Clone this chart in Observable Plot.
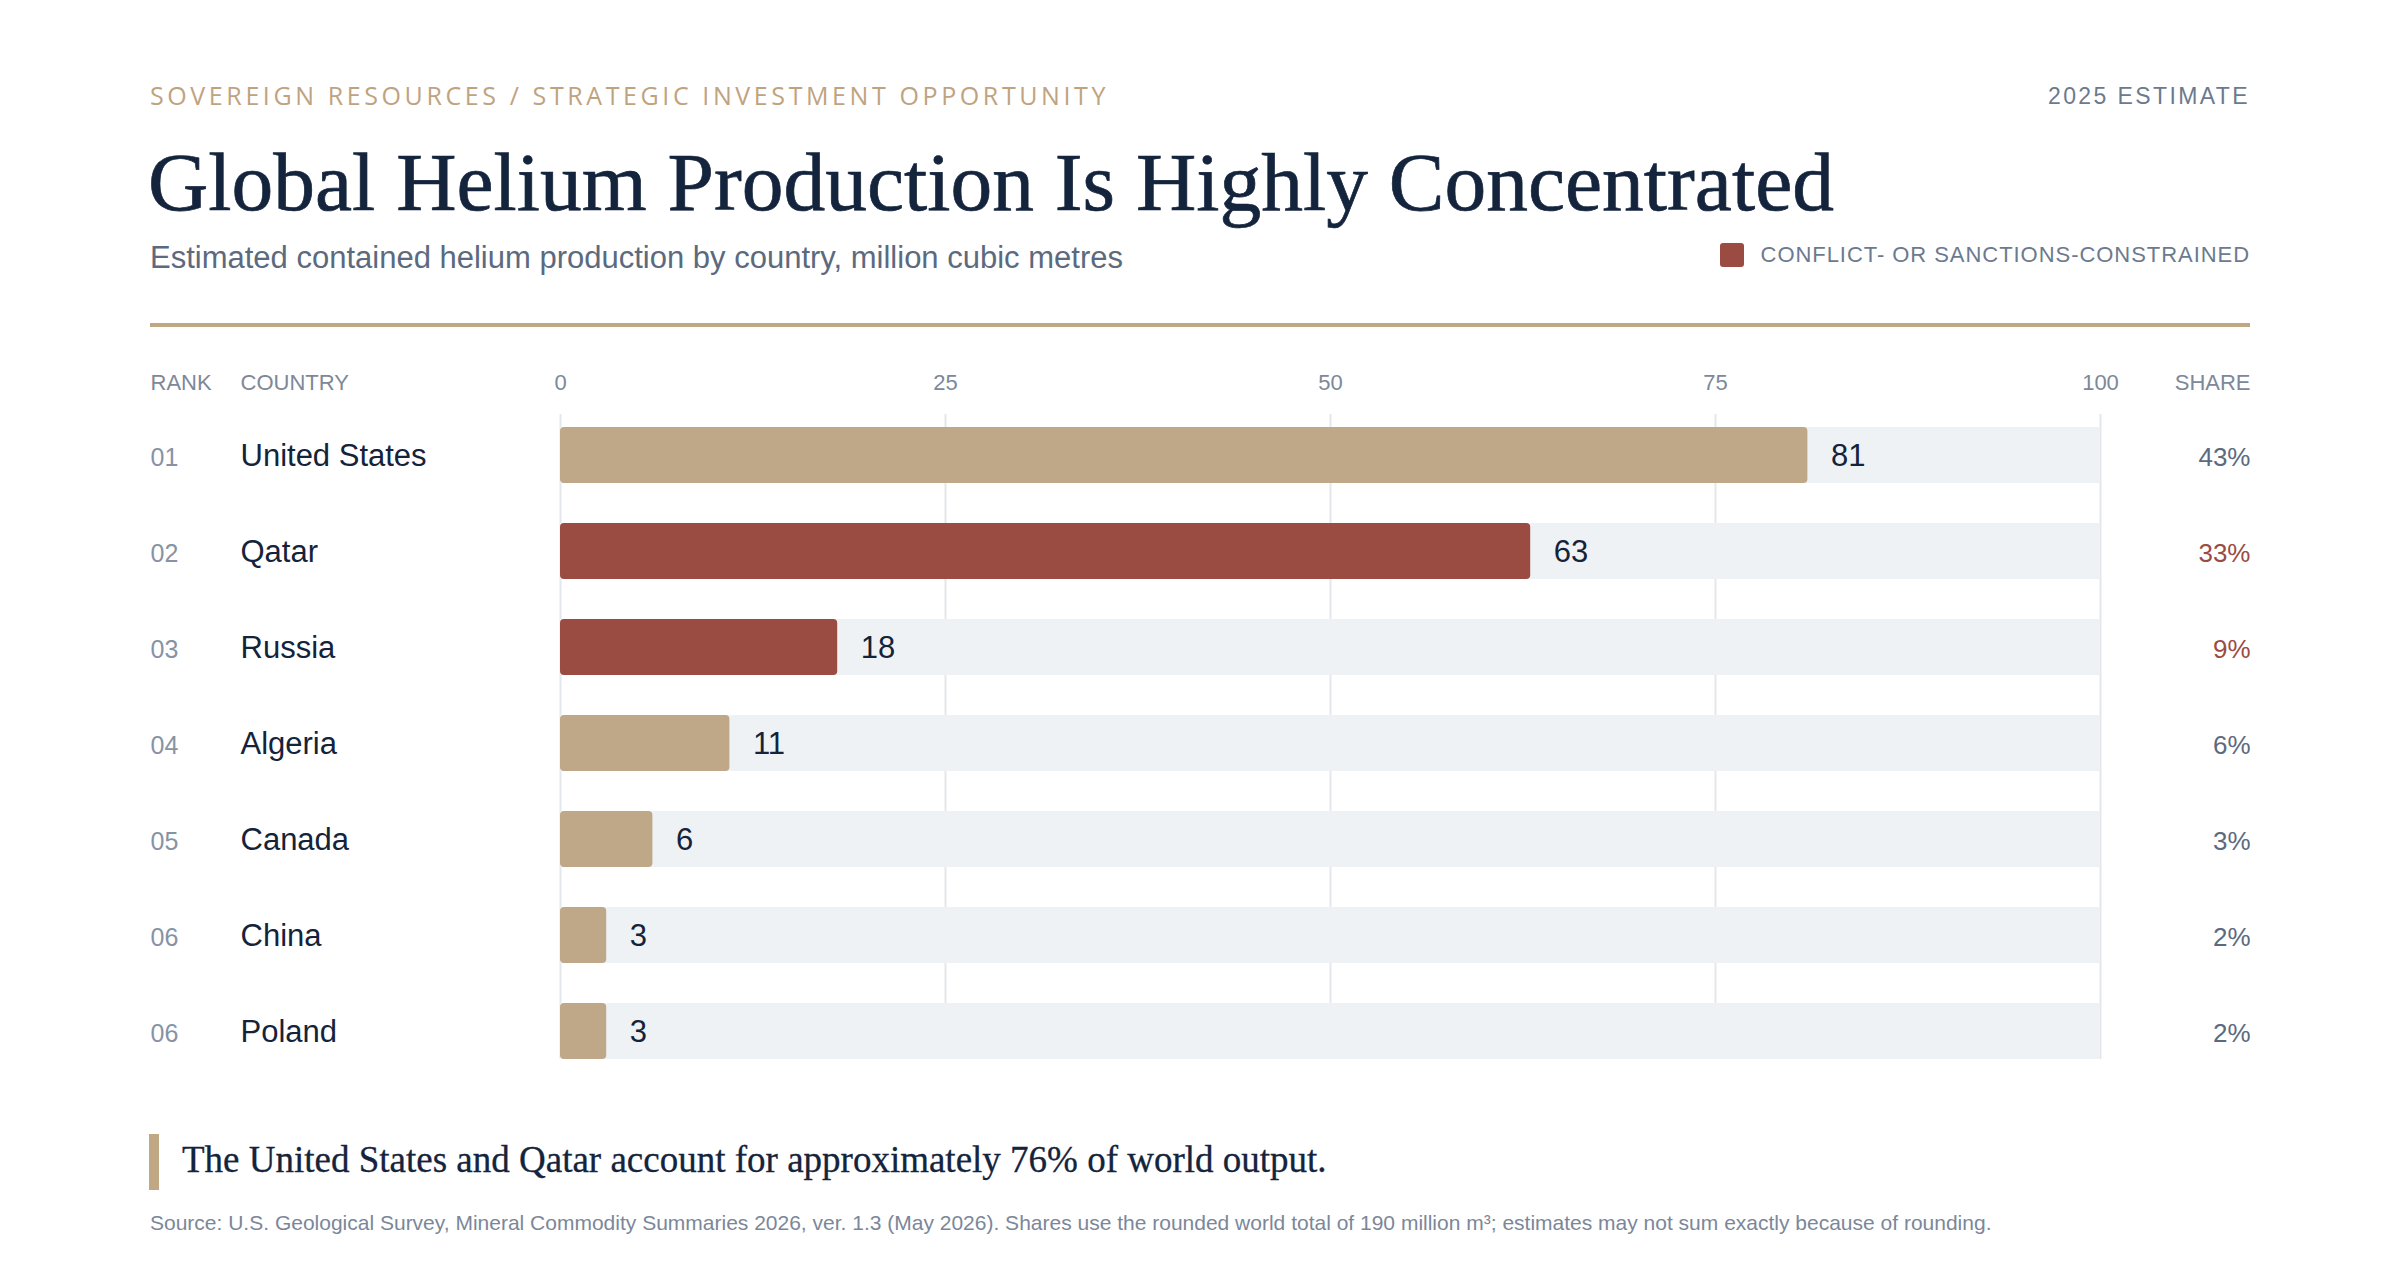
<!DOCTYPE html>
<html>
<head>
<meta charset="utf-8">
<script src="https://cdn.jsdelivr.net/npm/d3@7"></script>
<script src="https://cdn.jsdelivr.net/npm/@observablehq/plot@0.6"></script>
<style>
  html, body { margin: 0; padding: 0; background: #ffffff; }
  #page { position: relative; width: 2400px; height: 1280px; overflow: hidden; font-family: "Liberation Sans", Arial, sans-serif; }
  .abs { position: absolute; white-space: nowrap; line-height: 1; }
  #kicker { left: 150px; top: 83px; font-family: "Open Sans", sans-serif; font-size: 25px; letter-spacing: 3.6px; color: #bfa37f; }
  #estimate { right: 150px; top: 85px; font-size: 23px; letter-spacing: 2.4px; color: #6b7a8e; }
  #title { left: 148px; top: 141px; font-family: "Liberation Serif", Georgia, serif; font-size: 83.5px; color: #14243c; -webkit-text-stroke: 0.7px #14243c; }
  #subtitle { left: 150px; top: 242px; font-size: 31px; color: #5b6a7e; }
  #legend { right: 150px; top: 243px; display: flex; align-items: center; font-size: 22px; letter-spacing: 0.95px; color: #6b7a8e; }
  #legend .sw { width: 24px; height: 24px; border-radius: 3px; background: #9b4c42; margin-right: 17px; }
  #rule { position: absolute; left: 150px; top: 323px; width: 2100px; height: 4px; background: #c0a884; }
  #chart { position: absolute; left: 0; top: 340px; }
  #callbar { position: absolute; left: 149px; top: 1134px; width: 10px; height: 56px; background: #c0a884; }
  #callout { left: 182px; top: 1141px; font-family: "Liberation Serif", Georgia, serif; font-size: 37px; color: #14243c; -webkit-text-stroke: 0.3px #14243c; }
  #source { left: 150px; top: 1212px; font-size: 21px; color: #7b8799; }
</style>
</head>
<body>
<div id="page">
  <div id="kicker" class="abs">SOVEREIGN RESOURCES / STRATEGIC INVESTMENT OPPORTUNITY</div>
  <div id="estimate" class="abs">2025 ESTIMATE</div>
  <div id="title" class="abs">Global Helium Production Is Highly Concentrated</div>
  <div id="subtitle" class="abs">Estimated contained helium production by country, million cubic metres</div>
  <div id="legend" class="abs"><span class="sw"></span><span>CONFLICT- OR SANCTIONS-CONSTRAINED</span></div>
  <div id="rule"></div>
  <div id="chart"></div>
  <div id="callbar"></div>
  <div id="callout" class="abs">The United States and Qatar account for approximately 76% of world output.</div>
  <div id="source" class="abs">Source: U.S. Geological Survey, Mineral Commodity Summaries 2026, ver. 1.3 (May 2026). Shares use the rounded world total of 190 million m³; estimates may not sum exactly because of rounding.</div>
</div>
<script>
// ---- data ----
const countries = ["United States", "Qatar", "Russia", "Algeria", "Canada", "China", "Poland"];
const ranks = ["01", "02", "03", "04", "05", "06", "06"];
const production = [81, 63, 18, 11, 6, 3, 3];
const shares = [43, 33, 9, 6, 3, 2, 2];
const constrained = [false, true, true, false, false, false, false];
const xTicks = [0, 25, 50, 75, 100];
const xMax = 100;
const headers = ["RANK", "COUNTRY", "SHARE"];

// ---- styles ----
const TAN = "#bea887";
const RED = "#9b4c42";
const NAVY = "#14233a";
const GRAY = "#7d8899";

const rows = countries.map((c, i) => ({
  country: c, rank: ranks[i], value: production[i], share: shares[i], constrained: constrained[i]
}));

const chart = Plot.plot({
  width: 2400,
  height: 760,
  marginLeft: 560,
  marginRight: 300,
  marginTop: 74,
  marginBottom: 29,
  style: { fontFamily: "'Liberation Sans', Arial, sans-serif", background: "transparent" },
  x: { domain: [0, xMax], axis: null },
  y: { domain: countries, axis: null, paddingInner: 40 / 96, paddingOuter: 0.13 },
  color: { type: "identity" },
  marks: [
    Plot.axisX({ anchor: "top", ticks: xTicks, tickSize: 0, tickPadding: 25, label: null, fontSize: 22, color: GRAY }),
    Plot.ruleX(xTicks, { stroke: "#e3e7ec", strokeWidth: 2, insetBottom: 12 }),
    Plot.barX(rows, { y: "country", x1: 0, x2: xMax, fill: "#eff2f5" }),
    Plot.barX(rows, { y: "country", x: "value", fill: d => d.constrained ? RED : TAN, rx: 4 }),
    Plot.text(rows, { y: "country", x: "value", text: d => String(d.value), dx: 23, textAnchor: "start", fontSize: 31, fill: NAVY, dy: 1 }),
    Plot.text(rows, { y: "country", text: "rank", frameAnchor: "left", textAnchor: "start", dx: -410, fontSize: 25, fill: "#8793a4", dy: 2 }),
    Plot.text(rows, { y: "country", text: "country", frameAnchor: "left", textAnchor: "start", dx: -320, fontSize: 31, fill: NAVY, dy: 1 }),
    Plot.text(rows, { y: "country", text: d => d.share + "%", frameAnchor: "right", textAnchor: "end", dx: 150, fontSize: 26, fill: d => d.constrained ? RED : "#5b6a7e", dy: 2 }),
    Plot.text([headers[0]], { text: d => d, frameAnchor: "top-left", textAnchor: "start", lineAnchor: "bottom", dx: -410, dy: -25, fontSize: 22, fill: GRAY }),
    Plot.text([headers[1]], { text: d => d, frameAnchor: "top-left", textAnchor: "start", lineAnchor: "bottom", dx: -320, dy: -25, fontSize: 22, fill: GRAY }),
    Plot.text([headers[2]], { text: d => d, frameAnchor: "top-right", textAnchor: "end", lineAnchor: "bottom", dx: 150, dy: -25, fontSize: 22, fill: GRAY })
  ]
});
document.getElementById("chart").appendChild(chart);
</script>
</body>
</html>
